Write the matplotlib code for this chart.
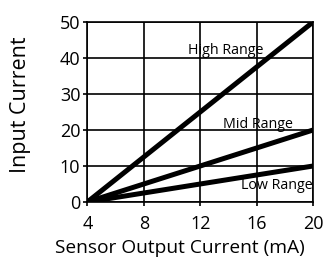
import matplotlib.pyplot as plt

x_ma = [4, 20]
high_range = [0, 50]
mid_range = [0, 20]
low_range = [0, 10]
x_ticks = [4, 8, 12, 16, 20]
y_ticks = [0, 10, 20, 30, 40, 50]

plt.rcParams['font.family'] = ['Open Sans', 'DejaVu Sans']

fig = plt.figure(figsize=(3.32, 2.62), dpi=100)
ax = fig.add_axes([0.263, 0.229, 0.680, 0.687])

for y in (high_range, mid_range, low_range):
    ax.plot(x_ma, y, color='black', lw=3.6, solid_capstyle='butt', zorder=3)

ax.set_xlim(4, 20)
ax.set_ylim(0, 50)
ax.set_xticks(x_ticks)
ax.set_yticks(y_ticks)
ax.grid(True, color='black', lw=1.2)
for s in ax.spines.values():
    s.set_linewidth(1.2)
ax.tick_params(direction='out', length=3, width=1.2, labelsize=13)
ax.tick_params(axis='x', pad=6)
ax.tick_params(axis='y', pad=2)

lbl = dict(fontsize=10.3, ha='center', va='center', zorder=4)
ax.text(13.8, 42.2, 'High Range', **lbl)
ax.text(16.1, 21.4, 'Mid Range', **lbl)
ax.text(17.4, 4.7, 'Low Range', **lbl)

ax.set_xlabel('Sensor Output Current (mA)', fontsize=13.8, ha='left', va='center')
ax.xaxis.set_label_coords(-0.143, -0.256)
ax.set_ylabel('Input Current', fontsize=15.5, ha='center', va='center')
ax.yaxis.set_label_coords(-0.294, 0.539)

fig.savefig('out.png', dpi=100)
